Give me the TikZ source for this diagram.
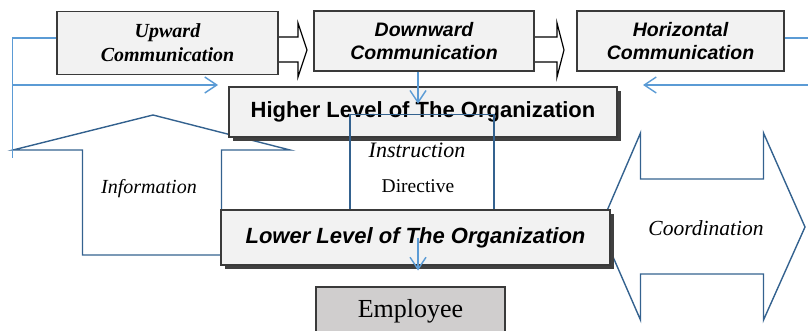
\documentclass[tikz,border=0pt]{standalone}
\usepackage{fontspec}
\setmainfont{Liberation Serif}
\setsansfont{Liberation Sans}
\usetikzlibrary{arrows.meta, shadows}
\definecolor{cbox}{HTML}{F2F2F2}
\definecolor{cline}{HTML}{3A3A3A}
\definecolor{cdark}{HTML}{34628F}
\definecolor{clight}{HTML}{5B9BD5}
\definecolor{cemp}{HTML}{D0CECE}
\tikzset{
  every picture/.style={line width=1.2pt},
  box/.style={draw=cline, fill=cbox, align=center, inner sep=0pt, line width=1.5pt},
  topbox/.style={box, font=\sffamily\bfseries\itshape\fontsize{19.5}{23}\selectfont},
  level/.style={box, drop shadow={shadow xshift=4pt, shadow yshift=-4pt, fill=black!75, opacity=1},
    font=\sffamily\bfseries\fontsize{22}{26}\selectfont},
  outline/.style={draw=cdark, line width=1.4pt},
  link/.style={draw=clight, line width=1.4pt},
  linkarrow/.style={link, -{Straight Barb[length=12pt, width=16pt]}},
  hollow/.style={draw=black, fill=white, line width=1.2pt},
  label/.style={font=\itshape\fontsize{20}{24}\selectfont},
}

\begin{document}
\begin{tikzpicture}[x=1pt, y=-1pt]
  \useasboundingbox (0,0) rectangle (808,331);
  % up arrow: information
  \draw[outline] (82.5,255) -- (82.5,150) -- (13,150) -- (153,115) -- (290,150) -- (221.5,150) -- (221.5,255) -- cycle;
  \node[label] (info) at (149,189) {Information};
  % double arrow: coordination
  \draw[outline] (600,227) -- (640.5,133) -- (640.5,179) -- (763.5,179) -- (763.5,133) -- (805,227)
    -- (763.5,320) -- (763.5,274) -- (640.5,274) -- (640.5,320) -- cycle;
  \node[label, font=\itshape\fontsize{21.5}{24}\selectfont] (coord) at (706,228) {Coordination};
  % top row
  \draw[hollow] (278,37) -- (298,37) -- (298,23) -- (307,50) -- (298,77) -- (298,62) -- (278,62);
  \draw[hollow] (534,37) -- (557,37) -- (557,23) -- (564,50) -- (557,77) -- (557,62) -- (534,62);
  \node[box, minimum width=221, minimum height=63, font=\rmfamily\bfseries\itshape\fontsize{20}{24}\selectfont]
    (up) at (167.5,43) {Upward\\Communication};
  \node[topbox, minimum width=220, minimum height=60] (down) at (424,41) {Downward\\Communication};
  \node[topbox, minimum width=207, minimum height=60] (hor) at (680.5,41) {Horizontal\\Communication};
  % levels
  \node[fill=white, minimum width=143, minimum height=95] (instr) at (422,162.5) {};
  \node[level, minimum width=388, minimum height=50] (high) at (423,112) {\raisebox{2pt}{Higher Level of The Organization}};
  \draw[outline] (instr.north west) rectangle (instr.south east);
  \node[font=\itshape\fontsize{22}{24}\selectfont] (ins) at (417,150) {Instruction};
  \node[font=\fontsize{19.5}{22}\selectfont] (dir) at (418,186) {Directive};
  \node[level, font=\sffamily\bfseries\itshape\fontsize{22}{26}\selectfont, minimum width=389, minimum height=55]
    (low) at (415.5,237.5) {\raisebox{3pt}{Lower Level of The Organization}};
  \node[draw=cline, fill=cemp, line width=1.5pt, minimum width=189, minimum height=50, anchor=north,
    font=\fontsize{26}{30}\selectfont] (emp) at (410.5,286) {Employee};
  % blue links
  \coordinate (lend) at (12.5,158);
  \coordinate (lstart) at (12.5,85);
  \coordinate (ltip) at (218,85);
  \coordinate (rend) at (808,38);
  \coordinate (rstart) at (808,85);
  \coordinate (rtip) at (643,85);
  \draw[link] ([yshift=5pt]up.west) -| (lend);
  \draw[linkarrow] (lstart) -- (ltip);
  \draw[link] ([yshift=3pt]hor.east) -- (rend);
  \draw[linkarrow] (rstart) -- (rtip);
  \draw[linkarrow] ([xshift=-6pt]down.south) -- ++(0,32);
  \draw[linkarrow] ([xshift=2.5pt]low.center) -- ++(0,33);
\end{tikzpicture}
\end{document}
